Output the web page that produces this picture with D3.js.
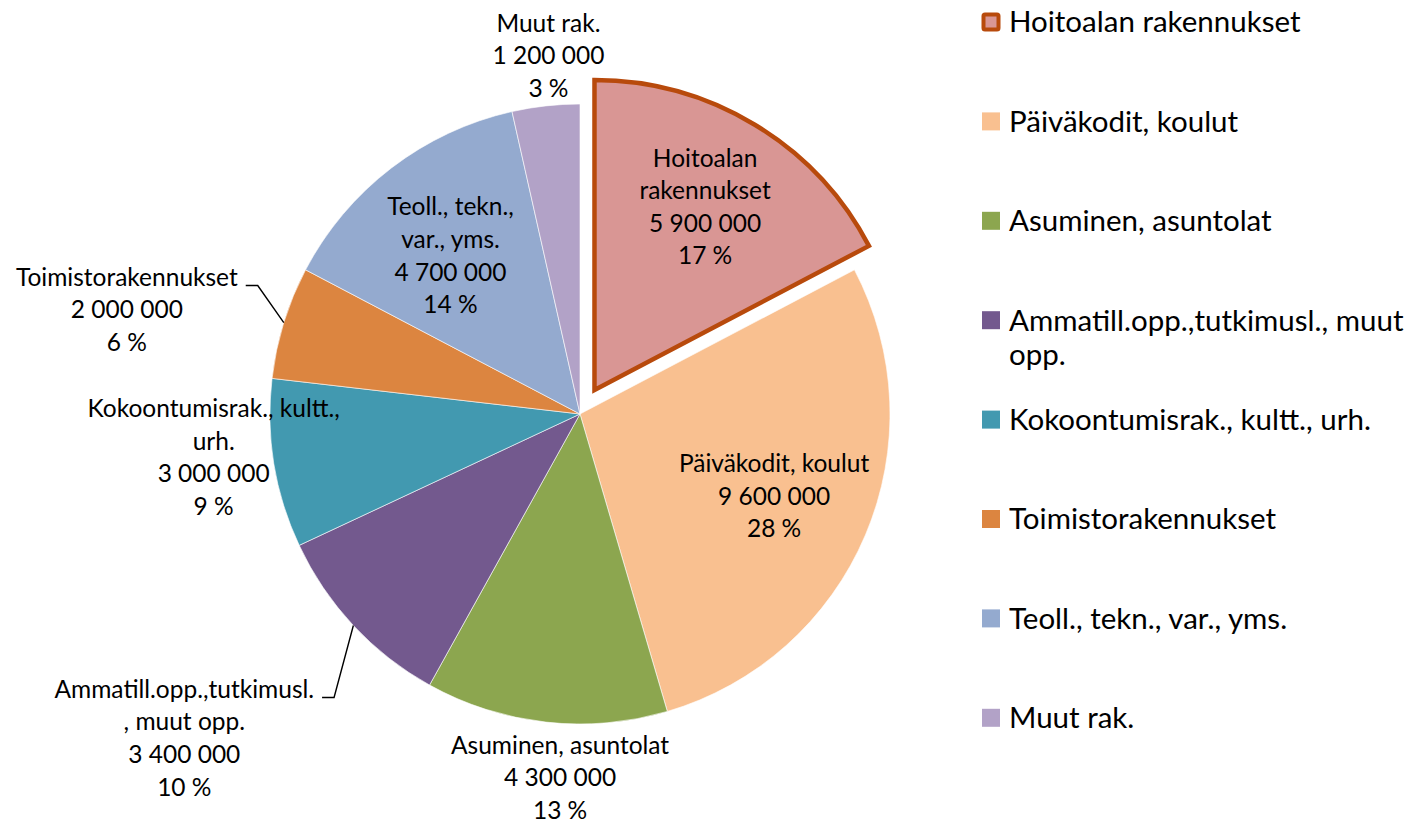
<!DOCTYPE html>
<html><head><meta charset="utf-8">
<script src="https://cdn.jsdelivr.net/npm/d3@7"></script>
<style>
html,body{margin:0;padding:0;background:#fff;}
svg{display:block;font-family:Lato,"Open Sans",sans-serif;}
</style></head>
<body>
<svg id="chart" width="1428" height="825"></svg>
<script>
// ---- data ----
const categories = ["Hoitoalan rakennukset","Päiväkodit, koulut","Asuminen, asuntolat","Ammatill.opp.,tutkimusl., muut opp.","Kokoontumisrak., kultt., urh.","Toimistorakennukset","Teoll., tekn., var., yms.","Muut rak."];
const values = [5900000, 9600000, 4300000, 3400000, 3000000, 2000000, 4700000, 1200000];
const percentLabels = ["17 %","28 %","13 %","10 %","9 %","6 %","14 %","3 %"];
const labelNameLines = [["Hoitoalan","rakennukset"],["Päiväkodit, koulut"],["Asuminen, asuntolat"],["Ammatill.opp.,tutkimusl.",", muut opp."],["Kokoontumisrak., kultt.,","urh."],["Toimistorakennukset"],["Teoll., tekn.,","var., yms."],["Muut rak."]];
const colors = ["#D99694","#F9C090","#8CA64F","#73598E","#4299B0","#DC8540","#94AACF","#B2A2C7"];

// ---- layout ----
const W=1428,H=825, cx=580, cy=414, R=310;
const explodeIndex=0, explodeDist=28;
const labelFont=24.5, legendFont=29.5, lineH=32.6;
// label placement: radius factor, angle adjust (deg), leader line flag
const labelLayout=[
  {rf:0.69,da:0},{rf:0.68,da:0},{rf:1.175,da:-3.2},{rf:1.65,da:3.7,leader:true},
  {rf:1.19,da:2.5},{rf:1.5,da:-4.2,leader:true},{rf:0.66,da:-1.8},{rf:1.16,da:1.3}
];

const svg=d3.select("#chart");
const fmt=v=>d3.format(",")(v).replace(/,/g," ");
const pie=d3.pie().sort(null).value(d=>d)(values);
const arc=d3.arc().innerRadius(0).outerRadius(R);
const color=d3.scaleOrdinal().domain(categories).range(colors);

function offsetFor(i,d){
  if(i!==explodeIndex) return [0,0];
  const a=(d.startAngle+d.endAngle)/2;
  return [Math.sin(a)*explodeDist,-Math.cos(a)*explodeDist];
}

const g=svg.append("g").attr("transform",`translate(${cx},${cy})`);
g.selectAll("path.slice").data(pie).join("path")
  .attr("class","slice")
  .attr("transform",(d,i)=>{const o=offsetFor(i,d);return `translate(${o[0]},${o[1]})`;})
  .attr("d",arc)
  .attr("fill",(d,i)=>color(categories[i]))
  .attr("stroke",(d,i)=>i===explodeIndex?"#B84A0C":"#ffffff")
  .attr("stroke-width",(d,i)=>i===explodeIndex?4.5:0.6)
  .attr("stroke-linejoin","miter");
g.selectAll("path.slice").filter((d,i)=>i===explodeIndex).raise();

// labels
pie.forEach((d,i)=>{
  const L=labelLayout[i];
  const a=(d.startAngle+d.endAngle)/2 + L.da*Math.PI/180;
  const o=offsetFor(i,d);
  const x=o[0]+Math.sin(a)*R*L.rf, y=o[1]-Math.cos(a)*R*L.rf;
  const lines=[...labelNameLines[i], fmt(values[i]), percentLabels[i]];
  const t=g.append("text").attr("text-anchor","middle").attr("font-size",labelFont).attr("fill","#000");
  const y0=y-(lines.length-1)*lineH/2;
  lines.forEach((s,k)=>t.append("tspan").attr("x",x).attr("y",y0+k*lineH).attr("dy","0.35em").text(s));
  if(L.leader){
    const first=t.select("tspan").node();
    const w=first.getComputedTextLength();
    const right=x+w/2;
    const ly=y0+0.34*labelFont;
    const ea=(d.startAngle+d.endAngle)/2;
    const ex=Math.sin(ea)*R, ey=-Math.cos(ea)*R;
    g.append("polyline")
      .attr("points",[[right+8,ly],[right+20,ly],[ex,ey]].map(p=>p.join(",")).join(" "))
      .attr("fill","none").attr("stroke","#000").attr("stroke-width",1.4);
  }
});

// legend
const lg=svg.append("g").attr("transform","translate(982,0)");
const rowY=i=>22+i*99.4;
categories.forEach((c,i)=>{
  const y=rowY(i);
  if(i===explodeIndex){
    lg.append("rect").attr("x",1.5).attr("y",y-7.5).attr("width",15).attr("height",15)
      .attr("fill",colors[i]).attr("stroke","#B84A0C").attr("stroke-width",4).attr("rx",1.5);
  } else {
    lg.append("rect").attr("x",0).attr("y",y-9).attr("width",18).attr("height",18).attr("fill",color(c));
  }
  const t=lg.append("text").attr("font-size",legendFont).attr("fill","#000");
  const words=c.split(" "); let line=[]; let ln=0;
  let tsp=t.append("tspan").attr("x",27).attr("y",y).attr("dy","0.35em");
  words.forEach(wd=>{
    line.push(wd); tsp.text(line.join(" "));
    if(tsp.node().getComputedTextLength()>412 && line.length>1){
      line.pop(); tsp.text(line.join(" ")); line=[wd]; ln++;
      tsp=t.append("tspan").attr("x",27).attr("y",y+ln*34).attr("dy","0.35em").text(wd);
    }
  });
});
</script>
</body></html>
